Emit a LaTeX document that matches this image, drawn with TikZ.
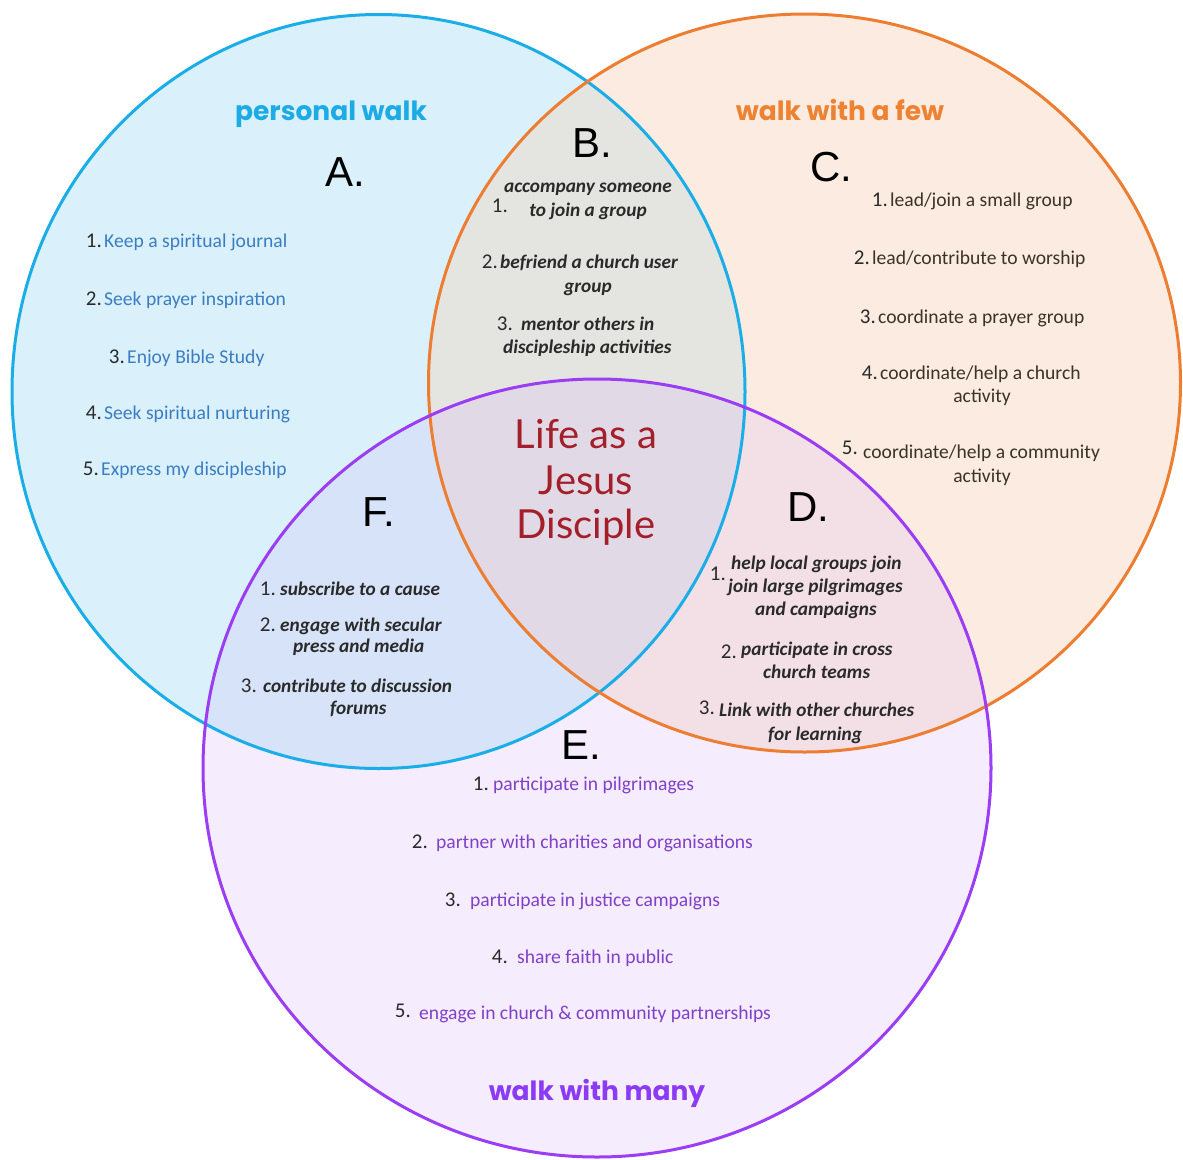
\documentclass[tikz,border=0pt]{standalone}
\usepackage{fontspec}
\setmainfont{Carlito}
\newfontfamily\titlefont{Poppins}
\newfontfamily\lettfont{Liberation Sans}
\newfontfamily\lifefont{Lato}
\definecolor{bluestroke}{HTML}{1AADE8}
\definecolor{bluefill}{HTML}{DAF1FB}
\definecolor{orangestroke}{HTML}{ED7D31}
\definecolor{orangefill}{HTML}{FBEBE0}
\definecolor{purplestroke}{HTML}{9B3DF5}
\definecolor{purplefill}{HTML}{F5EDFE}
\definecolor{bfill}{HTML}{E4E4E0}
\definecolor{ffill}{HTML}{D6E3F8}
\definecolor{dfill}{HTML}{F3E0E6}
\definecolor{cfill}{HTML}{E1DAE6}
\definecolor{bluetext}{HTML}{3B7DC4}
\definecolor{ctext}{HTML}{3A3424}
\definecolor{etext}{HTML}{8040C8}
\definecolor{numcol}{HTML}{2A2A2A}
\definecolor{lifetext}{HTML}{A31F2A}
\definecolor{titleblue}{HTML}{1DABE6}
\definecolor{titleorange}{HTML}{EE8233}
\definecolor{titlepurple}{HTML}{8C3BF4}
\tikzset{
  ring/.style={line width=3pt},
  txt/.style={anchor=base west, inner sep=0pt, font=\fontsize{19.6}{22}\selectfont},
  ctxt/.style={anchor=base, inner sep=0pt, font=\fontsize{19.6}{22}\selectfont},
  atext/.style={txt, text=bluetext},
  ctextst/.style={txt, text=ctext},
  cctext/.style={ctxt, text=ctext},
  etextst/.style={txt, text=etext},
  ittext/.style={txt, text=numcol, font=\fontsize{19.3}{22}\selectfont\bfseries\itshape},
  citext/.style={ctxt, text=numcol, font=\fontsize{19.3}{22}\selectfont\bfseries\itshape},
  num/.style={anchor=base east, inner sep=0pt, text=numcol, font=\fontsize{21}{21}\selectfont},
  title/.style={anchor=base, inner sep=0pt, font=\titlefont\fontsize{26.5}{30}\selectfont\bfseries},
  letter/.style={inner sep=0pt, font=\lettfont\fontsize{42}{42}\selectfont, text=black},
  life/.style={inner sep=0pt, font=\lifefont\fontsize{40}{42}\selectfont, text=lifetext}
}
\begin{document}
\begin{tikzpicture}[x=1pt,y=-1pt]
\useasboundingbox (0,0) rectangle (1183,1159);
\fill[white] (0,0) rectangle (1183,1159);
\def\circA{(378.5,391.5) ellipse[x radius=366.5, y radius=377]}
\def\circC{(804.5,383) ellipse[x radius=376, y radius=369]}
\def\circE{(597,768) ellipse[x radius=394, y radius=389]}
% base fills
\fill[bluefill] \circA;
\fill[orangefill] \circC;
\fill[purplefill] \circE;
% overlaps
\begin{scope}\clip \circA; \fill[bfill] \circC; \end{scope}
\begin{scope}\clip \circA; \fill[ffill] \circE; \end{scope}
\begin{scope}\clip \circC; \fill[dfill] \circE; \end{scope}
\begin{scope}\clip \circA; \clip \circC; \fill[cfill] \circE; \end{scope}
% outlines
\draw[ring, bluestroke] \circA;
\draw[ring, orangestroke] \circC;
\draw[ring, purplestroke] \circE;

% titles
\node[title, text=titleblue] (tA) at (331,120) {personal walk};
\node[title, text=titleorange] (tC) at (840,120) {walk with a few};
\node[title, text=titlepurple] (tE) at (597,1100) {walk with many};

% letters
\node[letter] (lA) at (345,172) {A.};
\node[letter] (lB) at (592,143) {B.};
\node[letter] (lC) at (831,167) {C.};
\node[letter] (lD) at (808,507) {D.};
\node[letter] (lE) at (581,745) {E.};
\node[letter] (lF) at (379,512) {F.};

% centre
\node[life] (life1) at (586,434) {Life as a};
\node[life] (life2) at (586,480) {Jesus};
\node[life] (life3) at (586,527) {Disciple};

% A list
\node[atext] (a1) at (104,247) {Keep a spiritual journal};
\node[num] (a1n) at (102,247) {1.};
\node[atext] (a2) at (104,305) {Seek prayer inspiration};
\node[num] (a2n) at (102,305) {2.};
\node[atext] (a3) at (127,363) {Enjoy Bible Study};
\node[num] (a3n) at (125,363) {3.};
\node[atext] (a4) at (104,419) {Seek spiritual nurturing};
\node[num] (a4n) at (102,419) {4.};
\node[atext] (a5) at (101,475) {Express my discipleship};
\node[num] (a5n) at (99,475) {5.};

% C list
\node[ctextst] (c1) at (890,206) {lead/join a small group};
\node[num] (c1n) at (888,206) {1.};
\node[ctextst] (c2) at (872,264) {lead/contribute to worship};
\node[num] (c2n) at (870,264) {2.};
\node[ctextst] (c3) at (878,323) {coordinate a prayer group};
\node[num] (c3n) at (876,323) {3.};
\node[ctextst] (c4) at (880,379) {coordinate/help a church};
\node[num] (c4n) at (878,379) {4.};
\node[cctext] (c4b) at (982,402) {activity};
\node[ctextst] (c5) at (863,458) {coordinate/help a community};
\node[num] (c5n) at (858,454) {5.};
\node[cctext] (c5b) at (982,482) {activity};

% B list
\node[citext] (b1) at (588,192) {accompany someone};
\node[citext] (b1b) at (588,216) {to join a group};
\node[num] (b1n) at (508,212) {1.};
\node[ittext] (b2) at (500,268) {befriend a church user};
\node[num] (b2n) at (498,268) {2.};
\node[citext] (b2b) at (588,292) {group};
\node[ittext] (b3) at (521,330) {mentor others in};
\node[num] (b3n) at (513,330) {3.};
\node[ittext] (b3b) at (503,353) {discipleship activities};

% F list
\node[ittext] (f1) at (280,595) {subscribe to a cause};
\node[num] (f1n) at (276,595) {1.};
\node[ittext] (f2) at (280,631) {engage with secular};
\node[num] (f2n) at (276,631) {2.};
\node[ittext] (f2b) at (293,652) {press and media};
\node[ittext] (f3) at (263,692) {contribute to discussion};
\node[num] (f3n) at (257,692) {3.};
\node[ittext] (f3b) at (330,714) {forums};

% D list
\node[ittext] (d1) at (731,569) {help local groups join};
\node[ittext] (d1b) at (728,592) {join large pilgrimages};
\node[ittext] (d1c) at (755,615) {and campaigns};
\node[num] (d1n) at (726,580) {1.};
\node[ittext] (d2) at (741,655) {participate in cross};
\node[num] (d2n) at (737,658) {2.};
\node[ittext] (d2b) at (763,678) {church teams};
\node[ittext] (d3) at (719,716) {Link with other churches};
\node[num] (d3n) at (715,714) {3.};
\node[ittext] (d3b) at (768,740) {for learning};

% E list
\node[etextst] (e1) at (493,790) {participate in pilgrimages};
\node[num] (e1n) at (489,790) {1.};
\node[etextst] (e2) at (436,848) {partner with charities and organisations};
\node[num] (e2n) at (428,848) {2.};
\node[etextst] (e3) at (470,906) {participate in justice campaigns};
\node[num] (e3n) at (461,906) {3.};
\node[etextst] (e4) at (517,963) {share faith in public};
\node[num] (e4n) at (508,963) {4.};
\node[etextst] (e5) at (419,1019) {engage in church \& community partnerships};
\node[num] (e5n) at (411,1017) {5.};
\end{tikzpicture}
\end{document}
